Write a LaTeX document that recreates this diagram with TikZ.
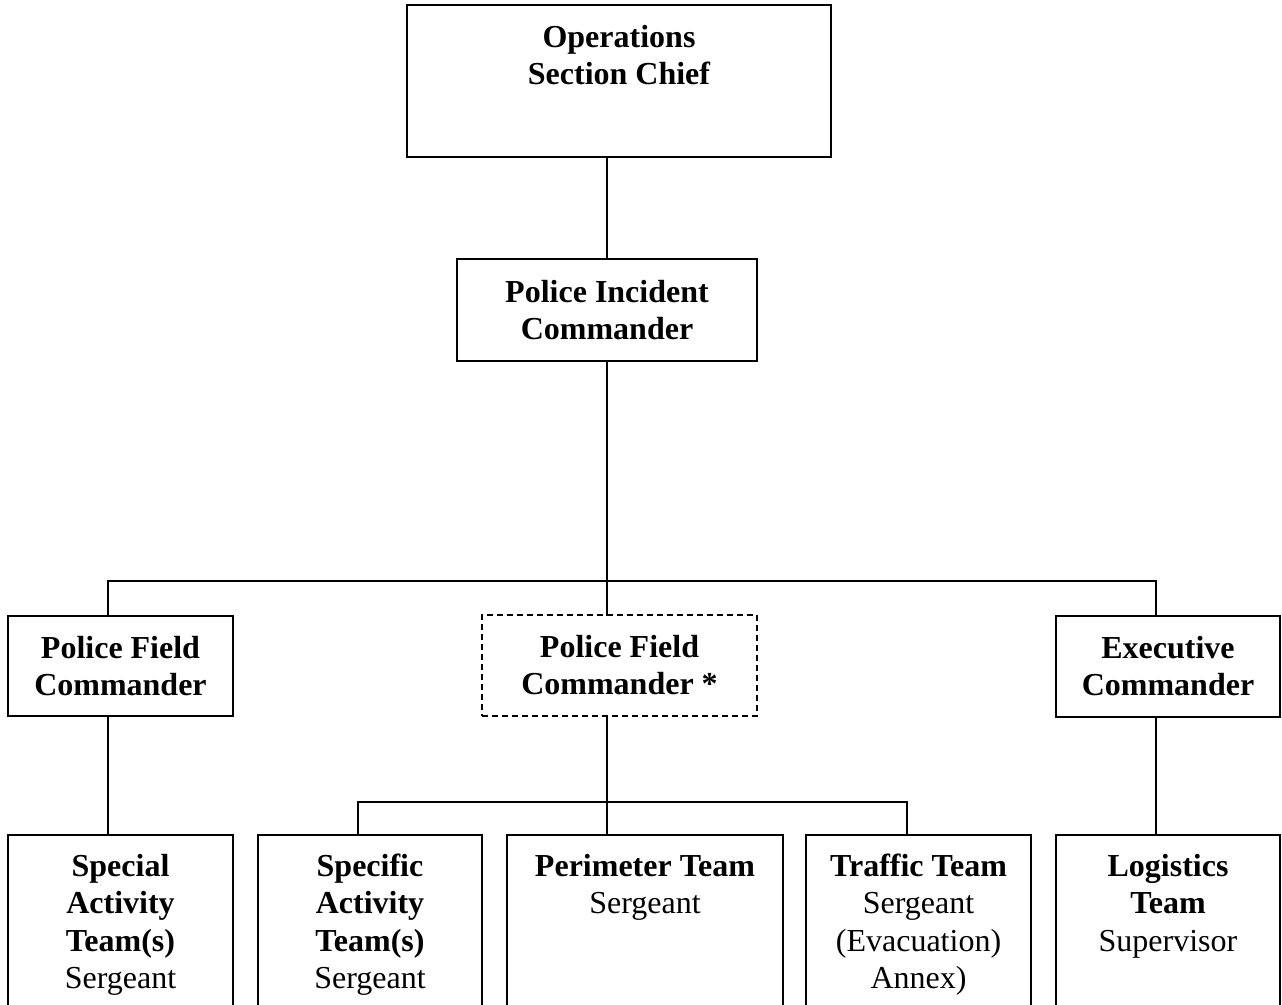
\documentclass[tikz,border=0pt]{standalone}
\usepackage{fontspec}
\setmainfont{Liberation Serif}
\newcommand{\firststrut}{\rule{0pt}{25pt}}
\begin{document}
\begin{tikzpicture}[x=1pt,y=-1pt,
  box/.style={draw, line width=1.6pt, inner sep=0pt, outer sep=0pt, align=center,
    font=\bfseries\fontsize{32}{37}\selectfont},
  dbox/.style={box, dash pattern=on 6pt off 4pt},
  toptxt/.style={inner sep=0pt, anchor=north, align=center,
    font=\bfseries\fontsize{32}{37}\selectfont},
  bottxt/.style={inner sep=0pt, anchor=north, align=center,
    font=\fontsize{32}{37.5}\selectfont},
  link/.style={line width=1.6pt, line cap=rect}]
\useasboundingbox (0,0) rectangle (1282,1004);
\clip (0,0) rectangle (1282,1004);

% boxes
\node[box, minimum width=424, minimum height=152] (ops) at (619,81) {};
\node[toptxt] (opst) at (619,22) {\firststrut Operations\\Section Chief};

\node[box, minimum width=300, minimum height=102] (pic) at (607,310) {Police Incident\\Commander};

\node[box, minimum width=225, minimum height=100] (pfc1) at (120.5,666) {Police Field\\Commander};
\node[dbox, minimum width=275, minimum height=101] (pfc2) at (619.5,665.5) {Police Field\\Commander *};
\node[box, minimum width=224, minimum height=101] (exec) at (1168,666.5) {Executive\\Commander};

\node[box, minimum width=225, minimum height=200] (sat) at (120.5,935) {};
\node[box, minimum width=224, minimum height=200] (spec) at (370,935) {};
\node[box, minimum width=276, minimum height=200] (peri) at (645,935) {};
\node[box, minimum width=225, minimum height=200] (traf) at (918.5,935) {};
\node[box, minimum width=224, minimum height=200] (log) at (1168,935) {};

\node[bottxt] (satt) at (120.5,851) {\firststrut\textbf{Special}\\\textbf{Activity}\\\textbf{Team(s)}\\Sergeant};
\node[bottxt] (spect) at (370,851) {\firststrut\textbf{Specific}\\\textbf{Activity}\\\textbf{Team(s)}\\Sergeant};
\node[bottxt] (perit) at (645,851) {\firststrut\textbf{Perimeter Team}\\Sergeant};
\node[bottxt] (traft) at (918.5,851) {\firststrut\textbf{Traffic Team}\\Sergeant\\(Evacuation)\\Annex)};
\node[bottxt] (logt) at (1168,851) {\firststrut\textbf{Logistics}\\\textbf{Team}\\Supervisor};

% junction coordinates
\coordinate (j1) at (607,581);
\coordinate (jL) at (108,581);
\coordinate (jR) at (1156,581);
\coordinate (j2) at (607,802);
\coordinate (j2L) at (358,802);
\coordinate (j2R) at (907,802);

% connectors
\draw[link] (ops.south -| pic.north) -- (pic.north);
\draw[link] (pic.south) -- (j1);
\draw[link] (jL) -- (jR);
\draw[link] (jL) -- (jL |- pfc1.north);
\draw[link] (j1) -- (j1 |- pfc2.north);
\draw[link] (jR) -- (jR |- exec.north);
\draw[link] (jL |- pfc1.south) -- (jL |- sat.north);
\draw[link] (j2 |- pfc2.south) -- (j2);
\draw[link] (j2L) -- (j2R);
\draw[link] (j2L) -- (j2L |- spec.north);
\draw[link] (j2) -- (j2 |- peri.north);
\draw[link] (j2R) -- (j2R |- traf.north);
\draw[link] (jR |- exec.south) -- (jR |- log.north);
\end{tikzpicture}
\end{document}
